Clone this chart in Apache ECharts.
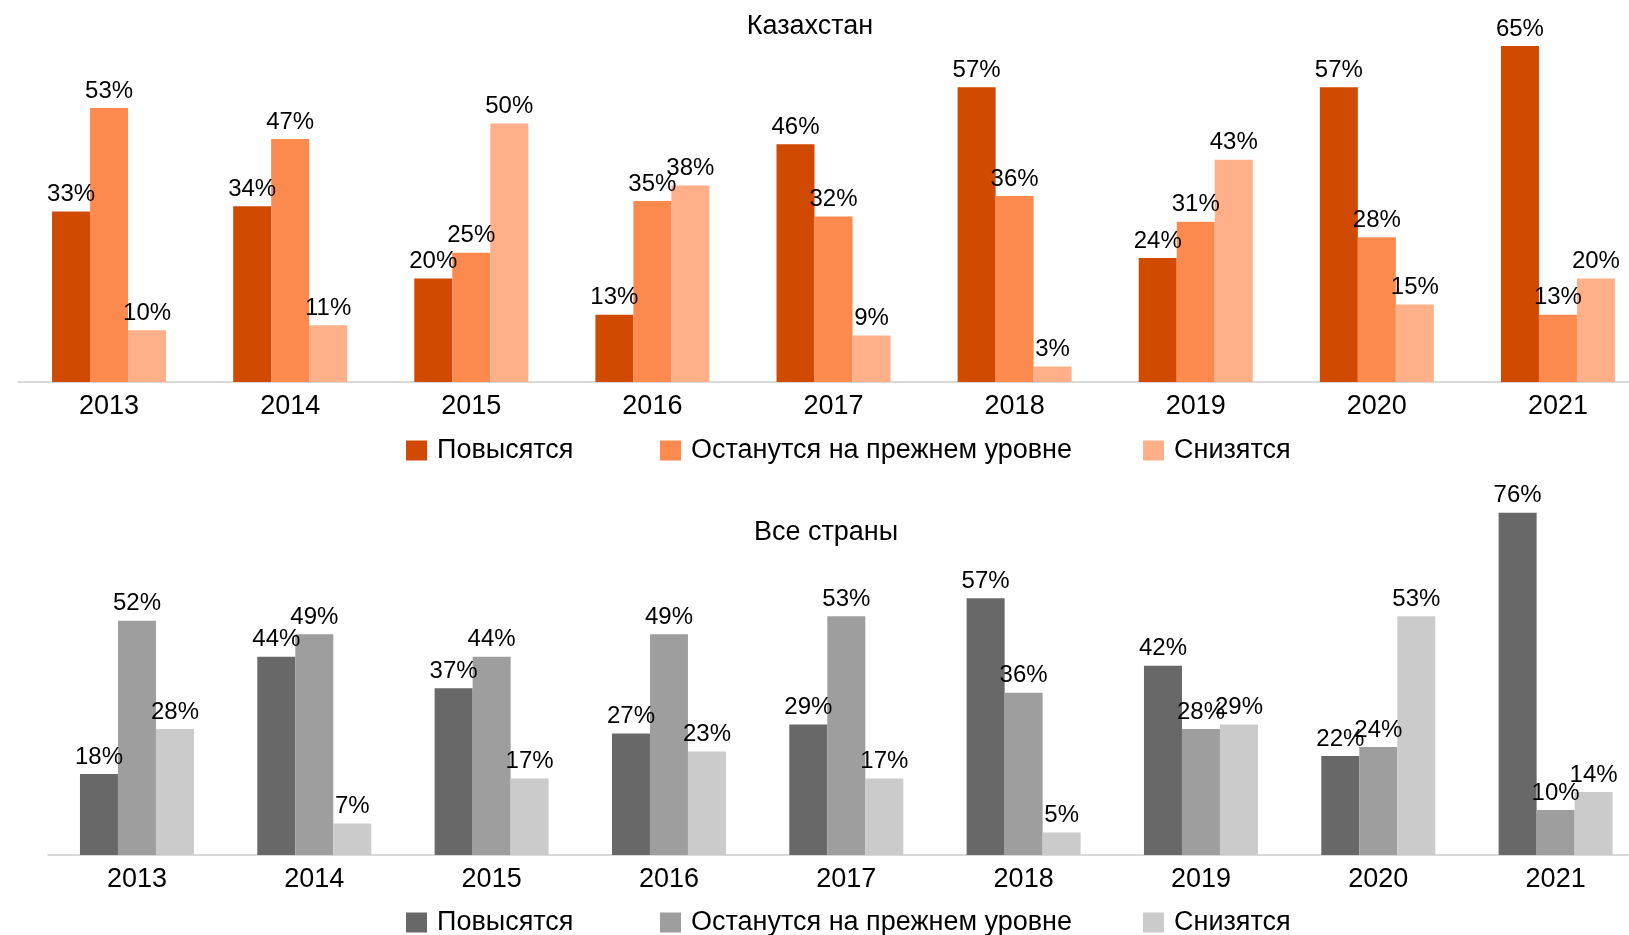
<!DOCTYPE html>
<html>
<head>
<meta charset="utf-8">
<script src="https://cdn.jsdelivr.net/npm/echarts@6/dist/echarts.min.js"></script>
<style>
html,body{margin:0;padding:0;background:#fff;}
#c{width:1629px;height:935px;}
</style>
</head>
<body>
<div id="c"></div>
<script>
const years = ['2013','2014','2015','2016','2017','2018','2019','2020','2021'];
const seriesNames = ['Повысятся','Останутся на прежнем уровне','Снизятся'];

const kzUp = [33,34,20,13,46,57,24,57,65];
const kzSame = [53,47,25,35,32,36,31,28,13];
const kzDown = [10,11,50,38,9,3,43,15,20];

const allUp = [18,44,37,27,29,57,42,22,76];
const allSame = [52,49,44,49,53,36,28,24,10];
const allDown = [28,7,17,23,17,5,29,53,14];

const titles = ['Казахстан','Все страны'];

const orange = ['#D04A02','#FC8A4F','#FFB088'];
const gray = ['#686868','#9E9E9E','#CBCBCB'];

const FONT = '"Liberation Sans", Arial, sans-serif';

function bar(name, data, color, idx) {
  return {
    name: name, type: 'bar', data: data,
    xAxisIndex: idx, yAxisIndex: idx,
    barWidth: 38, barGap: '0%',
    itemStyle: {color: color},
    label: {show: true, position: 'top', distance: 5, formatter: '{c}%',
            fontSize: 24, color: '#000', fontFamily: FONT}
  };
}

function legend(name, label, left, top) {
  return {
    data: [name], left: left, top: top, padding: 0,
    itemWidth: 21, itemHeight: 20, icon: 'rect',
    formatter: () => label,
    textStyle: {fontSize: 27, color: '#000', fontFamily: FONT, padding: [0,0,0,5]},
    selectedMode: false
  };
}

const chart = echarts.init(document.getElementById('c'), null, {renderer: 'canvas'});
const xAx = (gi) => ({
  type: 'category', data: years, gridIndex: gi,
  axisLine: {show: true, lineStyle: {color: '#D9D9D9', width: 2}},
  axisTick: {show: false},
  axisLabel: {fontSize: 27, color: '#000', fontFamily: FONT, margin: 12, lineHeight: 26}
});
chart.setOption({
  animation: false,
  backgroundColor: '#fff',
  title: [
    {text: titles[0], left: 810, top: 13, textAlign: 'center', padding: 0,
     textStyle: {fontSize: 27, fontWeight: 'normal', color: '#000', fontFamily: FONT}},
    {text: titles[1], left: 826, top: 519, textAlign: 'center', padding: 0,
     textStyle: {fontSize: 27, fontWeight: 'normal', color: '#000', fontFamily: FONT}}
  ],
  legend: [
    legend(seriesNames[0], seriesNames[0], 406, 437),
    legend(seriesNames[1], seriesNames[1], 660, 437),
    legend(seriesNames[2], seriesNames[2], 1143, 437),
    legend(seriesNames[0] + '_2', seriesNames[0], 406, 909),
    legend(seriesNames[1] + '_2', seriesNames[1], 660, 909),
    legend(seriesNames[2] + '_2', seriesNames[2], 1143, 909)
  ],
  grid: [
    {left: 18.5, width: 1630, top: 20.1, height: 361.9, outerBoundsMode: 'none', containLabel: false},
    {left: 48.3, width: 1596, top: 494.7, height: 360.3, outerBoundsMode: 'none', containLabel: false}
  ],
  xAxis: [xAx(0), xAx(1)],
  yAxis: [
    {type: 'value', gridIndex: 0, min: 0, max: 70, show: false, splitLine: {show: false}},
    {type: 'value', gridIndex: 1, min: 0, max: 80, show: false, splitLine: {show: false}}
  ],
  series: [
    bar(seriesNames[0], kzUp, orange[0], 0),
    bar(seriesNames[1], kzSame, orange[1], 0),
    bar(seriesNames[2], kzDown, orange[2], 0),
    bar(seriesNames[0] + '_2', allUp, gray[0], 1),
    bar(seriesNames[1] + '_2', allSame, gray[1], 1),
    bar(seriesNames[2] + '_2', allDown, gray[2], 1)
  ]
});
</script>
</body>
</html>
